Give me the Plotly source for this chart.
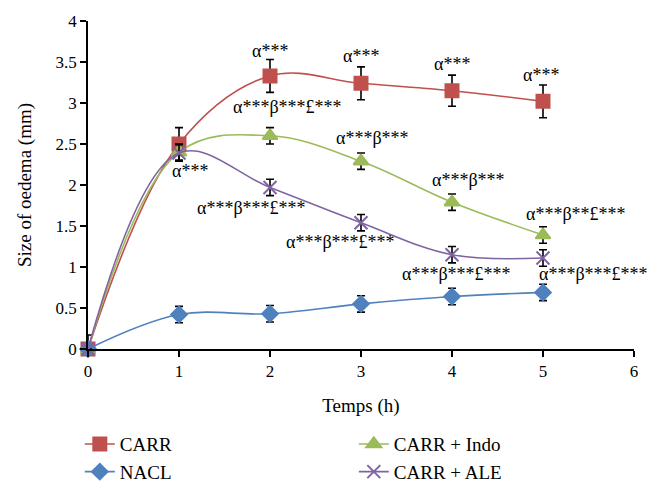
import plotly.graph_objects as go

hours = [0, 1, 2, 3, 4, 5]

carr = [0, 2.5, 3.33, 3.24, 3.15, 3.02]
carr_err = [0.17, 0.2, 0.2, 0.2, 0.19, 0.2]

nacl = [0, 0.42, 0.43, 0.55, 0.64, 0.69]
nacl_err = [0, 0.1, 0.1, 0.1, 0.1, 0.1]

indo = [0, 2.4, 2.6, 2.29, 1.79, 1.39]
indo_err = [0, 0.1, 0.1, 0.1, 0.1, 0.1]

ale = [0, 2.39, 1.97, 1.54, 1.15, 1.11]
ale_err = [0, 0.1, 0.1, 0.1, 0.1, 0.1]

# significance labels: (x, y, text)
labels = [
    (1.12, 2.17, "α***"),
    (2.0, 3.64, "α***"),
    (3.0, 3.57, "α***"),
    (4.0, 3.47, "α***"),
    (4.98, 3.34, "α***"),
    (2.19, 2.95, "α***β***£***"),
    (3.13, 2.57, "α***β***"),
    (4.18, 2.06, "α***β***"),
    (5.36, 1.65, "α***β**£***"),
    (1.8, 1.72, "α***β***£***"),
    (2.78, 1.30, "α***β***£***"),
    (4.05, 0.91, "α***β***£***"),
    (5.55, 0.91, "α***β***£***"),
]

FONT = "Liberation Serif, Times New Roman, serif"

series = [
    ("CARR", carr, carr_err, "#C0504D", "square", 13),
    ("CARR + Indo", indo, indo_err, "#9BBB59", "triangle-up", 13),
    ("NACL", nacl, nacl_err, "#4F81BD", "diamond", 12),
    ("CARR + ALE", ale, ale_err, "#8064A2", "x-thin-open", 13),
]

fig = go.Figure()
for name, vals, err, color, symbol, size in series:
    fig.add_trace(go.Scatter(
        x=hours, y=vals, name=name, mode="lines+markers",
        line=dict(color=color, width=1.6, shape="spline", smoothing=1.05),
        marker=dict(symbol=symbol, size=size, color=color,
                    line=dict(color=color, width=2)),
        error_y=dict(type="data", array=err, color="black",
                     thickness=1.6, width=4),
        cliponaxis=False,
    ))

for x, y, t in labels:
    fig.add_annotation(x=x, y=y, text=t, showarrow=False,
                       font=dict(family=FONT, size=18, color="black"))

# page body adds 8px offset, margins compensate for it
fig.update_layout(
    width=658, height=497,
    margin=dict(l=80, r=32, t=13, b=156, autoexpand=False),
    plot_bgcolor="white", paper_bgcolor="white",
    font=dict(family=FONT, size=17, color="black"),
    showlegend=True,
    legend=dict(
        orientation="h", x=-0.015, y=-0.232, xanchor="left", yanchor="top",
        entrywidth=229, entrywidthmode="pixels",
        font=dict(family=FONT, size=19), tracegroupgap=0,
    ),
)
fig.update_xaxes(
    range=[0, 6], tickvals=[0, 1, 2, 3, 4, 5, 6],
    showline=True, linecolor="black", linewidth=1.5,
    ticks="outside", tickcolor="black", ticklen=6, tickwidth=1.5,
    showgrid=False, zeroline=False, automargin=False,
    title=dict(text="Temps (h)", font=dict(size=19), standoff=19),
)
fig.update_yaxes(
    range=[0, 4], tickvals=[0, 0.5, 1, 1.5, 2, 2.5, 3, 3.5, 4],
    showline=True, linecolor="black", linewidth=1.5,
    ticks="outside", tickcolor="black", ticklen=6, tickwidth=1.5,
    showgrid=False, zeroline=False, automargin=False,
    title=dict(text="Size of oedema (mm)", font=dict(size=19), standoff=19),
)

fig.write_html("out.html")
